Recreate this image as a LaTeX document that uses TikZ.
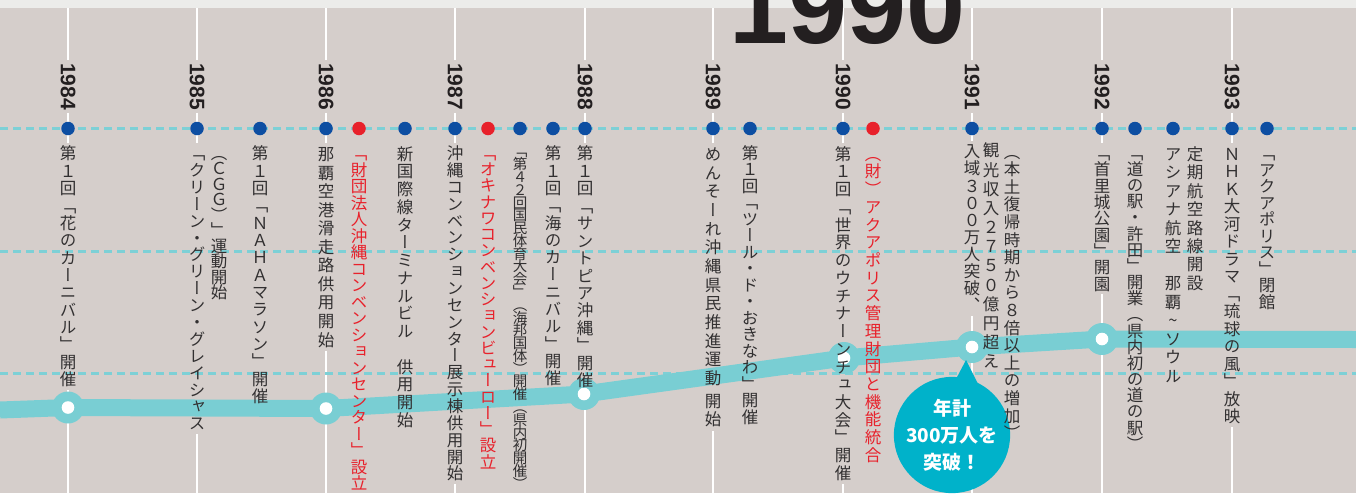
\documentclass[tikz,border=0pt]{standalone}
\usepackage{fontspec}
\usepackage{graphicx}
\setmainfont{Liberation Sans}
\newfontfamily\jp[RawFeature=+vert]{Noto Sans CJK JP}
\newfontfamily\jph{Noto Sans CJK JP}
\definecolor{bg}{RGB}{213,206,203}
\definecolor{band}{RGB}{236,236,234}
\definecolor{lc}{RGB}{121,206,211}
\definecolor{dashc}{RGB}{125,208,214}
\definecolor{dblue}{RGB}{13,78,162}
\definecolor{dred}{RGB}{232,33,43}
\definecolor{ink}{RGB}{50,48,49}
\definecolor{yk}{RGB}{35,31,32}
\definecolor{bubc}{RGB}{0,178,202}
\newcommand\vgap[1]{\vskip#1\relax}
\ExplSyntaxOn
\cs_new_protected:Npn \vt_stack:nn #1#2
  {
    \vbox
      {
        \offinterlineskip
        \tl_map_inline:nn {#2}
          {
            \tl_if_head_eq_meaning:nNTF {##1} \vgap
              { ##1 }
              {
                \hbox to #1
                  {
                    \hss
                    \vbox to #1 { \vss \hbox { \vrule height.88em depth.12em width0pt\relax ##1 } \vss }
                    \hss
                  }
              }
          }
      }
  }
\NewDocumentCommand \vstack { m m } { \vt_stack:nn {#1} {#2} }
\ExplSyntaxOff
\pgfdeclarelayer{back}
\pgfdeclarelayer{mid}
\pgfsetlayers{back,mid,main}
\begin{document}
\begin{tikzpicture}[x=1pt,y=-1pt,
  wl/.style={draw=white,line width=2.4pt},
  dashl/.style={draw=dashc,line width=2.4pt,dash pattern=on 8pt off 5pt},
  ylab/.style={inner sep=0pt,outer sep=3pt,text=yk,font=\bfseries\fontsize{21}{21}\selectfont},
  col/.style={inner sep=0pt,outer sep=2pt,anchor=north,text=ink,font=\jp\fontsize{16.5}{16.5}\selectfont},
  redcol/.style={col,text=dred},
  smallcol/.style={col,font=\jp\fontsize{14.5}{14.5}\selectfont},
  bdot/.style={circle,fill=dblue,inner sep=0pt,minimum size=13.5pt},
  rdot/.style={bdot,fill=dred},
  thickl/.style={draw=lc,line width=17pt,line join=round},
  bigc/.style={circle,fill=lc,inner sep=0pt,minimum size=32pt,
    path picture={\fill[white] (path picture bounding box.center) circle (6.3pt);}},
  bubble/.style={circle,fill=bubc,inner sep=0pt,minimum size=113pt,text=white,align=center,
    font=\jph\bfseries\fontsize{19}{27}\selectfont},
  big/.style={anchor=base west,inner sep=0pt,text=yk,font=\bfseries\fontsize{106}{106}\selectfont}
]
\useasboundingbox (0,0) rectangle (1356,493);
\begin{pgfonlayer}{back}
  \fill[bg] (0,0) rectangle (1356,493);
  \fill[band] (0,0) rectangle (1356,8);
\end{pgfonlayer}

% year labels
\node[ylab] (y1984) at (68,86.5) {\rotatebox{-90}{1984}};
\node[ylab] (y1985) at (197,86.5) {\rotatebox{-90}{1985}};
\node[ylab] (y1986) at (326,86.5) {\rotatebox{-90}{1986}};
\node[ylab] (y1987) at (455,86.5) {\rotatebox{-90}{1987}};
\node[ylab] (y1988) at (585,86.5) {\rotatebox{-90}{1988}};
\node[ylab] (y1989) at (713,86.5) {\rotatebox{-90}{1989}};
\node[ylab] (y1990) at (843,86.5) {\rotatebox{-90}{1990}};
\node[ylab] (y1991) at (972,86.5) {\rotatebox{-90}{1991}};
\node[ylab] (y1992) at (1102,86.5) {\rotatebox{-90}{1992}};
\node[ylab] (y1993) at (1232,86.5) {\rotatebox{-90}{1993}};

% text columns
\node[col] (t1984) at (68,143) {\vstack{17.36pt}{第１回「花のカーニバル」開催}};
\node[col] (t1985) at (197,143) {\vstack{16.88pt}{「クリーン・グリーン・グレイシャス}};
\node[col] (t1985b) at (219,143) {\vstack{15.5pt}{（ＣＧＧ）」運動開始}};
\node[col] (t1985c) at (260,143) {\vstack{17.33pt}{第１回「ＮＡＨＡマラソン」開催}};
\node[col] (t1986) at (326,143) {\vstack{18.55pt}{那覇空港滑走路供用開始}};
\node[redcol] (t1986b) at (359,143) {\vstack{16.52pt}{「財団法人沖縄コンベンションセンター」設立}};
\node[col] (t1986c) at (405,143) {\vstack{17.75pt}{新国際線ターミナルビル　供用開始}};
\node[col] (t1987) at (455,143) {\vstack{16.85pt}{沖縄コンベンションセンター展示棟供用開始}};
\node[redcol] (t1987b) at (488,143) {\vstack{16.25pt}{「オキナワコンベンションビューロー」設立}};
\node[smallcol] (t1987c) at (520,143) {\vstack{12.78pt}{「第４２回国民体育大会」（海邦国体）開催（県内初開催）}};
\node[col] (t1987d) at (553,143) {\vstack{17.29pt}{第１回「海のカーニバル」開催}};
\node[col] (t1988) at (585,143) {\vstack{17.43pt}{第１回「サントピア沖縄」開催}};
\node[col] (t1989) at (713,143) {\vstack{18.67pt}{めんそーれ沖縄県民推進運動{\vgap{4pt}}開始}};
\node[col] (t1989b) at (750,143) {\vstack{16.47pt}{第１回「ツール・ド・おきなわ」開催}};
\node[col] (t1990) at (843,143) {\vstack{17.74pt}{第１回「世界のウチナーンチュ大会」開催}};
\node[redcol] (t1990b) at (873,143) {\vstack{17.72pt}{（財）アクアポリス管理財団と機能統合}};
\node[col] (t1991) at (972,141) {\vstack{17.1pt}{入域３００万人突破、}};
\node[col] (t1991b) at (991,139) {\vstack{19.17pt}{観光収入２７５０億円超え}};
\node[col] (t1991c) at (1012,141) {\vstack{17.6pt}{（本土復帰時期から８倍以上の増加）}};
\node[col] (t1992) at (1102,143) {\vstack{16.33pt}{「首里城公園」開園}};
\node[col] (t1992b) at (1135,143) {\vstack{16.16pt}{「道の駅・許田」開業（県内初の道の駅）}};
\node[col] (t1992c) at (1173,143) {\vstack{18.46pt}{アシアナ航空　那覇{\textasciitilde}ソウル}};
\node[col] (t1992d) at (1195,143) {\vstack{18.4pt}{定期航空路線開設}};
\node[col] (t1993) at (1232,143) {\vstack{17.5pt}{ＮＨＫ大河ドラマ「琉球の風」放映}};
\node[col] (t1993b) at (1267,143) {\vstack{16.5pt}{「アクアポリス」閉館}};

\begin{pgfonlayer}{back}
  \foreach \yr/\xx in {1984/68,1985/197,1986/326,1987/455,1988/585,1989/713,1990/843,1991/972,1992/1102,1993/1232}{
    \coordinate (tp\yr) at (\xx,8);
    \coordinate (bt\yr) at (\xx,493);
    \draw[wl] (tp\yr) -- (y\yr) -- (t\yr) -- (bt\yr);
  }
  \begin{scope}
    \clip (0,0) rectangle (1356,493);
    \node[big] (big1990) at (729,43) {1990};
  \end{scope}
  \draw[dashl] (0,128.5) -- (1356,128.5);
  \draw[dashl] (0,251.5) -- (1356,251.5);
  \draw[dashl] (0,373.5) -- (1356,373.5);
\end{pgfonlayer}

\begin{pgfonlayer}{mid}
  \coordinate (p0) at (0,410);
  \coordinate (p1984) at (68,407.5);
  \coordinate (p1986) at (326,408.5);
  \coordinate (p1988) at (584,394);
  \coordinate (p1990) at (844,358);
  \coordinate (p1991) at (972,347);
  \coordinate (p1992) at (1102,339);
  \coordinate (pend) at (1356,339.5);
  \draw[thickl] (p0) -- (p1984) -- (p1986) -- (p1988) -- (p1990) -- (p1991) -- (p1992) -- (pend);
  \foreach \yr in {1984,1986,1988,1990,1991,1992}{
    \node[bigc] (c\yr) at (p\yr) {};
  }
  % dots
  \node[bdot] (d1) at (68,128.5) {};
  \node[bdot] (d2) at (197,128.5) {};
  \node[bdot] (d3) at (260,128.5) {};
  \node[bdot] (d4) at (326,128.5) {};
  \node[rdot] (d5) at (359,128.5) {};
  \node[bdot] (d6) at (405,128.5) {};
  \node[bdot] (d7) at (455,128.5) {};
  \node[rdot] (d8) at (488,128.5) {};
  \node[bdot] (d9) at (520,128.5) {};
  \node[bdot] (d10) at (553,128.5) {};
  \node[bdot] (d11) at (585,128.5) {};
  \node[bdot] (d12) at (713,128.5) {};
  \node[bdot] (d13) at (750,128.5) {};
  \node[bdot] (d14) at (843,128.5) {};
  \node[rdot] (d15) at (873,128.5) {};
  \node[bdot] (d16) at (972,128.5) {};
  \node[bdot] (d17) at (1102,128.5) {};
  \node[bdot] (d18) at (1135,128.5) {};
  \node[bdot] (d19) at (1173,128.5) {};
  \node[bdot] (d20) at (1232,128.5) {};
  \node[bdot] (d21) at (1267,128.5) {};
  % bubble
  \coordinate (tip) at (966,360);
  \coordinate (tl) at (946,398);
  \coordinate (tr) at (984,396);
  \fill[bubc] (tl) -- (tip) -- (tr) -- cycle;
  \node[bubble] (bub) at (952,435) {年計\\300万人を\\突破！};
\end{pgfonlayer}
\end{tikzpicture}
\end{document}
